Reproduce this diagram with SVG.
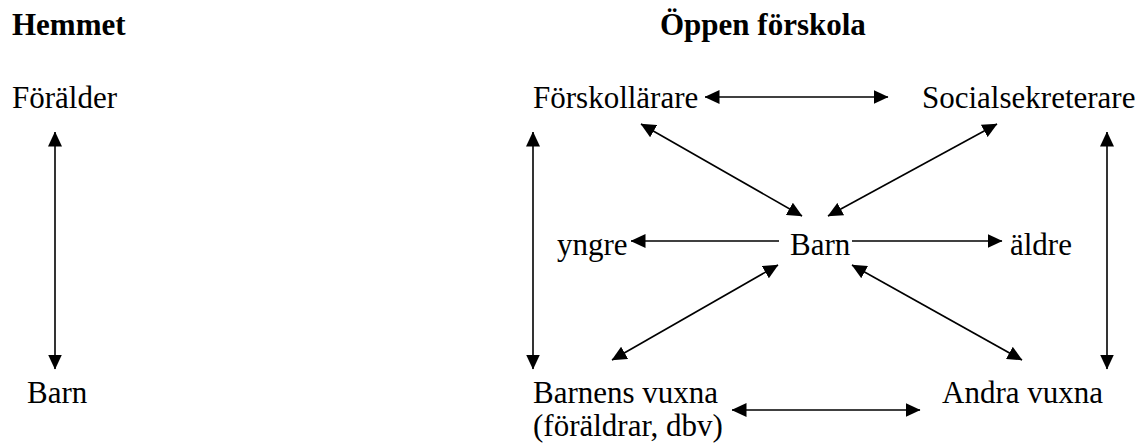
<svg xmlns="http://www.w3.org/2000/svg" width="1144" height="443" viewBox="0 0 1144 443">
<style>
text{font-family:"Liberation Serif","Times New Roman",Times,"DejaVu Serif",serif;font-size:31px;fill:#000}
.h{font-weight:bold}
.c line{stroke:#000;stroke-width:1.6;fill:none;marker-end:url(#a)}
.c line.b{marker-start:url(#a)}
</style>
<defs>
<marker id="a" viewBox="0 0 15 14" refX="14.5" refY="7" markerWidth="15" markerHeight="14" markerUnits="userSpaceOnUse" orient="auto-start-reverse">
<path d="M0,0 L15,7 L0,14 Z" fill="#000"/>
</marker>
</defs>
<rect width="1144" height="443" fill="#fff"/>
<g id="hemmet"><text class="h" x="12" y="35">Hemmet</text></g>
<g id="oppen"><text class="h" x="660" y="35">Öppen förskola</text></g>
<g id="foralder"><text x="12" y="108">Förälder</text></g>
<g id="barn-hem"><text x="27" y="403">Barn</text></g>
<g id="forskollarare"><text x="533" y="108">Förskollärare</text></g>
<g id="socialsekreterare"><text x="922" y="108">Socialsekreterare</text></g>
<g id="yngre"><text x="557" y="255">yngre</text></g>
<g id="barn"><text x="790" y="255">Barn</text></g>
<g id="aldre"><text x="1010" y="255">äldre</text></g>
<g id="barnens-vuxna"><text x="533" y="403">Barnens vuxna</text><text x="533" y="436">(föräldrar, dbv)</text></g>
<g id="andra-vuxna"><text x="942" y="403">Andra vuxna</text></g>
<g id="connectors" class="c">
<line class="b" x1="55" y1="132" x2="55" y2="369"/>
<line class="b" x1="705" y1="97" x2="888" y2="97"/>
<line class="b" x1="533" y1="132" x2="533" y2="369"/>
<line class="b" x1="1107" y1="132" x2="1107" y2="369"/>
<line class="b" x1="641" y1="124" x2="802" y2="216"/>
<line class="b" x1="997" y1="124" x2="828" y2="216"/>
<line x1="779" y1="241" x2="631" y2="241"/>
<line x1="852" y1="241" x2="1002" y2="241"/>
<line class="b" x1="778" y1="265" x2="612" y2="360"/>
<line class="b" x1="852" y1="265" x2="1022" y2="360"/>
<line class="b" x1="732" y1="410" x2="920" y2="410"/>
</g>
</svg>
